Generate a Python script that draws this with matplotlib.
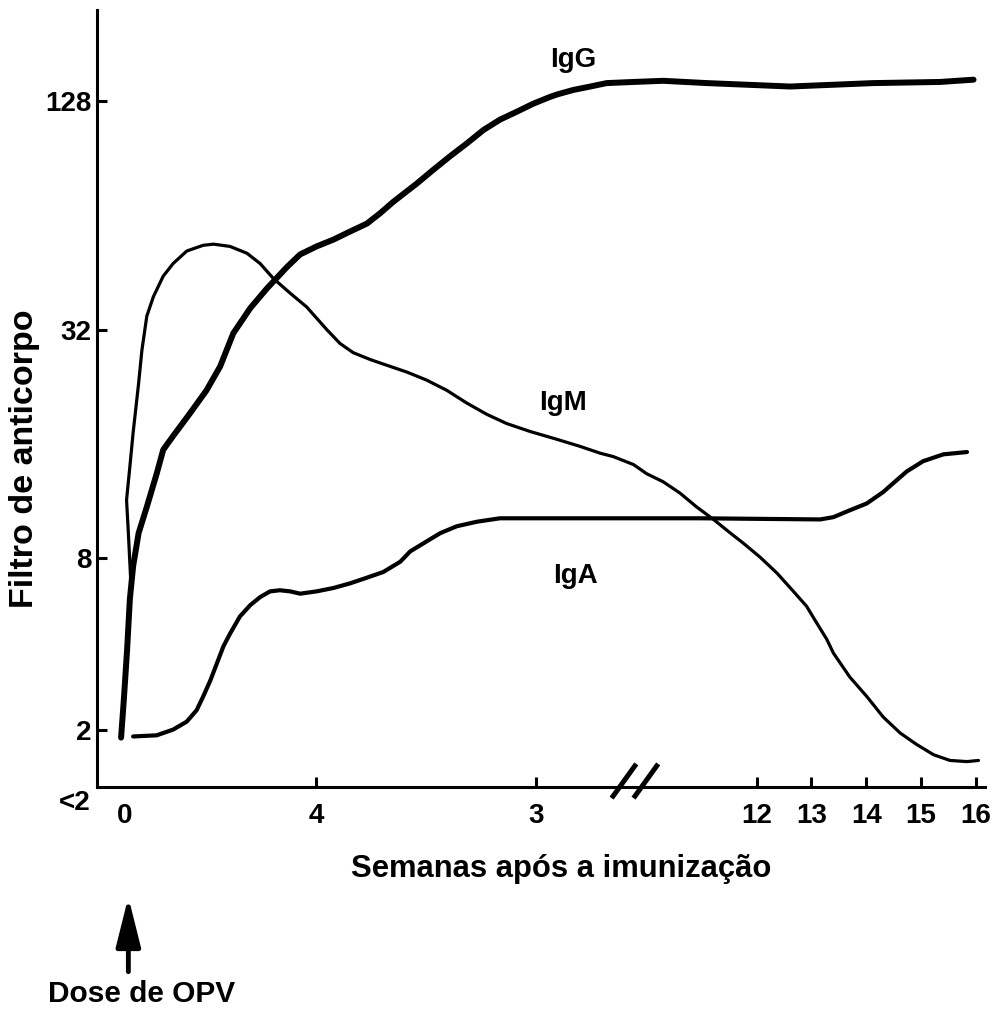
import numpy as np
import matplotlib
matplotlib.use("Agg")
import matplotlib.pyplot as plt
from matplotlib.patches import ArrowStyle

plt.rcParams['font.family'] = ['Liberation Sans', 'DejaVu Sans']
plt.rcParams['font.weight'] = 'bold'

# ---- axis ticks (x positions in drawing units, y in log-titer drawing units)
xtick_pos = [0.46, 3.95, 7.97, 12, 13, 14, 15, 16]
xtick_labels = ['0', '4', '3', '12', '13', '14', '15', '16']
ytick_pos = [0.5, 2, 4, 6]
ytick_labels = ['2', '8', '32', '128']
below_label = '<2'
x_break = 9.8

# ---- curves
igg_x = [0.39, 0.44, 0.50, 0.55, 0.61, 0.71, 0.86, 1.04, 1.16, 1.34, 1.65, 1.95, 2.20,
         2.44, 2.75, 3.05, 3.42, 3.66, 3.96, 4.27, 4.57, 4.88, 5.12, 5.36, 5.79, 6.09,
         6.40, 6.70, 7.01, 7.31, 7.62, 7.92, 8.23, 8.35, 8.65, 8.96, 9.26, 9.75, 10.29,
         11.09, 12.61, 14.13, 15.35, 15.96]
igg_y = [0.43, 0.76, 1.20, 1.64, 1.93, 2.22, 2.45, 2.74, 2.95, 3.07, 3.27, 3.47, 3.68,
         3.97, 4.19, 4.36, 4.55, 4.66, 4.73, 4.79, 4.86, 4.93, 5.02, 5.12, 5.28, 5.40,
         5.52, 5.63, 5.75, 5.84, 5.91, 5.98, 6.04, 6.06, 6.10, 6.13, 6.16, 6.17, 6.18,
         6.16, 6.13, 6.16, 6.17, 6.19]

igm_x = [0.57, 0.52, 0.49, 0.55, 0.61, 0.71, 0.77, 0.86, 0.98, 1.16, 1.34, 1.59, 1.89,
         2.08, 2.38, 2.69, 2.93, 3.17, 3.48, 3.78, 4.15, 4.39, 4.63, 4.94, 5.12, 5.61,
         5.97, 6.34, 6.70, 7.07, 7.43, 7.86, 8.29, 8.77, 9.14, 9.38, 9.75, 9.99, 10.29,
         10.60, 10.90, 11.21, 11.52, 11.76, 12.06, 12.37, 12.67, 12.91, 13.10, 13.28,
         13.40, 13.70, 14.01, 14.31, 14.62, 14.92, 15.23, 15.53, 15.84, 16.05]
igm_y = [1.77, 2.25, 2.51, 2.80, 3.10, 3.53, 3.82, 4.12, 4.29, 4.47, 4.58, 4.69, 4.74,
         4.75, 4.73, 4.67, 4.58, 4.45, 4.32, 4.20, 4.00, 3.88, 3.80, 3.74, 3.71, 3.63,
         3.56, 3.47, 3.36, 3.26, 3.18, 3.11, 3.05, 2.98, 2.92, 2.89, 2.82, 2.74, 2.67,
         2.57, 2.45, 2.34, 2.22, 2.13, 2.01, 1.87, 1.71, 1.58, 1.43, 1.29, 1.17, 0.96,
         0.79, 0.61, 0.47, 0.37, 0.28, 0.23, 0.22, 0.23]

iga_x = [0.61, 1.04, 1.34, 1.59, 1.77, 1.89, 2.02, 2.14, 2.26, 2.38, 2.56, 2.75, 2.93,
         3.11, 3.29, 3.48, 3.66, 3.96, 4.27, 4.57, 4.88, 5.18, 5.49, 5.67, 5.91, 6.22,
         6.52, 6.89, 7.31, 8.23, 10.96, 13.16, 13.40, 13.70, 14.01, 14.31, 14.50, 14.74,
         15.04, 15.41, 15.84]
iga_y = [0.44, 0.45, 0.50, 0.57, 0.67, 0.79, 0.93, 1.08, 1.23, 1.34, 1.49, 1.59, 1.66,
         1.71, 1.72, 1.71, 1.69, 1.71, 1.74, 1.78, 1.83, 1.88, 1.97, 2.06, 2.13, 2.22,
         2.28, 2.32, 2.35, 2.35, 2.35, 2.34, 2.36, 2.42, 2.48, 2.58, 2.66, 2.76, 2.85,
         2.91, 2.93]

labels = ['IgG', 'IgM', 'IgA']
label_pos = [(8.64, 6.30), (8.46, 3.30), (8.68, 1.78)]

fig = plt.figure(figsize=(9.95, 10.09), dpi=100)
ax = fig.add_axes([0.0972, 0.2203, 0.8928, 0.7698])

ax.plot(igg_x, igg_y, color='black', lw=4.3, solid_capstyle='round', solid_joinstyle='round')
ax.plot(igm_x, igm_y, color='black', lw=2.3, solid_capstyle='round', solid_joinstyle='round')
ax.plot(iga_x, iga_y, color='black', lw=3.0, solid_capstyle='round', solid_joinstyle='round')

for t, (lx, ly) in zip(labels, label_pos):
    ax.text(lx, ly, t, ha='center', va='baseline', fontsize=20, fontweight='bold')

ax.set_xlim(-0.055, 16.17)
ax.set_ylim(0, 6.80)
for s in ['top', 'right']:
    ax.spines[s].set_visible(False)
for s in ['left', 'bottom']:
    ax.spines[s].set_linewidth(2.2)

ax.set_xticks(xtick_pos)
ax.set_xticklabels(xtick_labels, fontsize=20, fontweight='bold')
ax.set_yticks(ytick_pos)
ax.set_yticklabels(ytick_labels, fontsize=20, fontweight='bold')
ax.tick_params(axis='both', direction='in', length=7.5, width=2.2)
ax.tick_params(axis='x', pad=12)
ax.tick_params(axis='y', pad=4)
ax.xaxis.get_major_ticks()[0].tick1line.set_visible(False)

ax.annotate(below_label, xy=(0, 0), xycoords=('axes fraction', 'data'),
            xytext=(-4.5, -12), textcoords='offset points',
            ha='right', va='center', fontsize=20, fontweight='bold')

# axis break marks
for dx in [0.0, 0.4]:
    ax.plot([x_break - 0.45 + dx, x_break + dx], [-0.10, 0.20], color='black',
            lw=3.6, clip_on=False, solid_capstyle='butt')

fig.text(0.564, 0.139, 'Semanas após a imunização', ha='center', va='center',
         fontsize=22.3, fontweight='bold')
fig.text(0.025, 0.545, 'Filtro de anticorpo', ha='center', va='center',
         rotation=90, fontsize=24.5, fontweight='bold')

ax.annotate('', xy=(0.129, 0.111), xytext=(0.129, 0.037),
            xycoords='figure fraction', textcoords='figure fraction',
            arrowprops=dict(arrowstyle=ArrowStyle('-|>', head_length=30, head_width=7.5),
                            mutation_scale=1, lw=3.5, color='black',
                            shrinkA=0, shrinkB=0))
fig.text(0.142, 0.0149, 'Dose de OPV', ha='center', va='center',
         fontsize=21.5, fontweight='bold')

fig.savefig('out.png', dpi=100, facecolor='white')
